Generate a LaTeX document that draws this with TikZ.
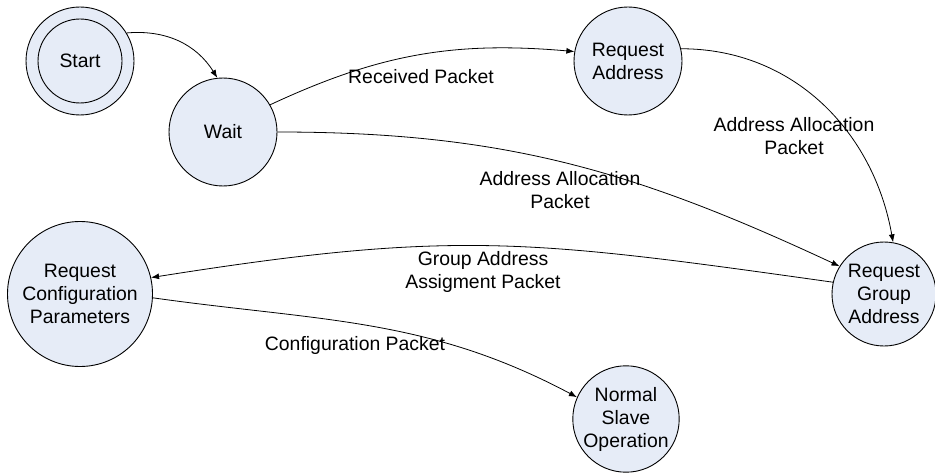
\documentclass[tikz,border=0pt]{standalone}
\usepackage{fontspec}
\setmainfont{Liberation Sans}
\usetikzlibrary{arrows.meta}
\definecolor{statefill}{RGB}{230,236,247}
\begin{document}
\begin{tikzpicture}[x=1pt,y=1pt,
  font=\fontsize{19.4}{23}\selectfont,
  state/.style={circle,draw=black,line width=0.9pt,fill=statefill,inner sep=0pt,align=center},
  trans/.style={line width=0.8pt,-{Latex[length=8pt,width=6pt]}},
  lbl/.style={align=center,inner sep=0pt}]
\useasboundingbox (0,0) rectangle (935,475);
% states
\node[state,minimum size=108pt] (startouter) at (80,414) {};
\node[state,minimum size=84pt] (start) at (80,414) {Start};
\node[state,minimum size=108pt] (wait) at (223,343) {Wait};
\node[state,minimum size=108pt] (reqaddr) at (628,414) {Request\\Address};
\node[state,minimum size=104pt] (reqgroup) at (884,181) {Request\\Group\\Address};
\node[state,minimum size=145pt] (reqconf) at (80,181) {Request\\Configuration\\Parameters};
\node[state,minimum size=104pt] (normal) at (626,56) {Normal\\Slave\\Operation};
% transitions
\draw[trans] (startouter.31) to[out=5,in=122] (wait.96);
\draw[trans] (wait.30) to[out=25,in=175] (reqaddr.170);
\draw[trans] (reqaddr.13) to[out=0,in=100] (reqgroup.80);
\draw[trans] (wait.0) to[out=0,in=155] (reqgroup.148);
\draw[trans] (reqgroup.167) to[out=172,in=9,looseness=1.15] (reqconf.13);
\draw[trans] (reqconf.-3) to[out=-8,in=152] (normal.156);
% transition labels
\node[lbl] (lblrecv) at (421,398) {Received Packet};
\node[lbl] (lblalloca) at (794,338.5) {Address Allocation\\Packet};
\node[lbl] (lblallocb) at (560,285) {Address Allocation\\Packet};
\node[lbl] (lblgroup) at (483,203.5) {Group Address\\Assigment Packet};
\node[lbl] (lblconf) at (355,129.5) {Configuration Packet};
\end{tikzpicture}
\end{document}
